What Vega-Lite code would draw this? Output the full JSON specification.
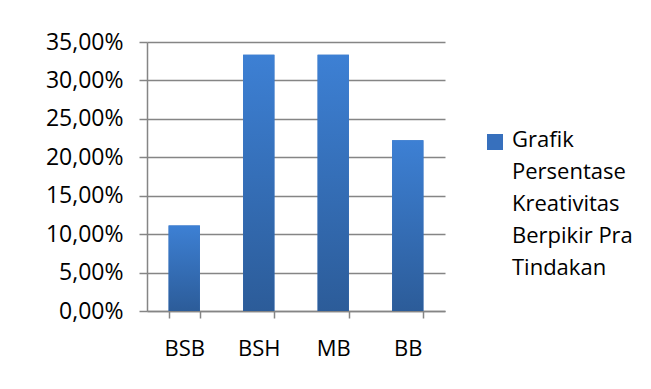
{
  "$schema": "https://vega.github.io/schema/vega-lite/v6.json",
  "width": 298,
  "height": 269,
  "autosize": {"type": "none"},
  "padding": {"left": 147, "top": 42, "right": 206, "bottom": 78},
  "background": "white",
  "config": {
    "locale": {"number": {"decimal": ",", "thousands": ".", "grouping": [3], "currency": ["", ""]}},
    "view": {"stroke": null},
    "font": "Open Sans"
  },
  "data": {
    "values": [
      {"kategori": "BSB", "persen": 0.1111, "seri": "Grafik\nPersentase\nKreativitas\nBerpikir Pra\nTindakan"},
      {"kategori": "BSH", "persen": 0.3333, "seri": "Grafik\nPersentase\nKreativitas\nBerpikir Pra\nTindakan"},
      {"kategori": "MB", "persen": 0.3333, "seri": "Grafik\nPersentase\nKreativitas\nBerpikir Pra\nTindakan"},
      {"kategori": "BB", "persen": 0.2222, "seri": "Grafik\nPersentase\nKreativitas\nBerpikir Pra\nTindakan"}
    ]
  },
  "encoding": {
    "x": {
      "field": "kategori", "type": "nominal", "sort": null,
      "scale": {"paddingInner": 0.58, "paddingOuter": 0.29},
      "axis": {
        "title": null, "labelAngle": 0, "labelFontSize": 22, "labelColor": "#000",
        "labelPadding": 20, "domainColor": "#858585", "domainWidth": 1.5,
        "tickColor": "#858585", "tickWidth": 1.5, "tickSize": 7, "tickBand": "extent",
        "grid": false
      }
    },
    "y": {
      "field": "persen", "type": "quantitative",
      "scale": {"domain": [0, 0.35]},
      "axis": {
        "title": null, "format": ".2%", "values": [0, 0.05, 0.1, 0.15, 0.2, 0.25, 0.3, 0.35],
        "labelFontSize": 23, "labelColor": "#000", "labelPadding": 16,
        "domainColor": "#858585", "domainWidth": 1.5,
        "tickColor": "#858585", "tickWidth": 1.5, "tickSize": 8,
        "gridColor": "#858585", "gridWidth": 1.5
      }
    }
  },
  "layer": [
    {
      "mark": {"type": "bar"},
      "encoding": {
        "color": {
          "field": "seri", "type": "nominal",
          "scale": {"range": ["#3770bd"]},
          "legend": {
            "title": null, "orient": "none", "legendX": 337, "legendY": 89,
            "padding": 0, "symbolType": "square", "symbolSize": 256,
            "symbolStrokeWidth": 0, "labelFontSize": 22, "labelColor": "#000",
            "labelOffset": 6, "labelBaseline": "top", "labelLimit": 300,
            "labelExpr": "split(datum.label, '\\n')",
            "encode": {"labels": {"update": {"lineHeight": {"value": 32}, "dy": {"value": -12}}}}
          }
        }
      }
    },
    {
      "mark": {
        "type": "bar",
        "color": {
          "gradient": "linear", "x1": 0, "y1": 0, "x2": 0, "y2": 1,
          "stops": [{"offset": 0, "color": "#3d80d4"}, {"offset": 1, "color": "#2c5c99"}]
        }
      }
    }
  ]
}
